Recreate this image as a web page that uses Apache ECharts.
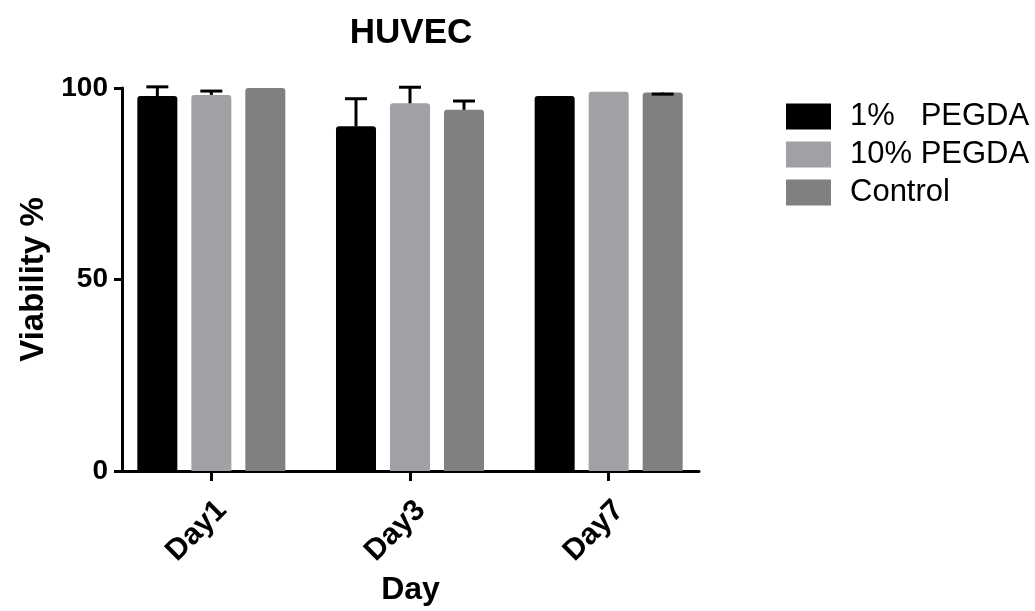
<!DOCTYPE html>
<html>
<head>
<meta charset="utf-8">
<style>
  html, body { margin: 0; padding: 0; background: #fff; }
  #chart { width: 1035px; height: 611px; }
</style>
<script src="https://cdn.jsdelivr.net/npm/echarts@6/dist/echarts.min.js"></script>
</head>
<body>
<div id="chart"></div>
<script>
// dados
const categories = ['Day1', 'Day3', 'Day7'];
const seriesNames = ['1%   PEGDA', '10% PEGDA', 'Control'];
const pegda1   = [97.9, 90.0, 97.9];
const pegda10  = [98.2, 96.0, 99.0];
const control  = [100, 94.3, 98.8];
// topo da barra de erro (null = sem barra)
const pegda1Hi  = [100.3, 97.2, null];
const pegda10Hi = [99.2, 100.2, null];
const controlHi = [null, 96.6, 98.4];
const yTicks = [0, 50, 100];

const colors = ['#000000', '#a1a1a5', '#808080'];
const FONT = '"Liberation Sans", Arial, sans-serif';

const chart = echarts.init(document.getElementById('chart'));

function errData(mean, hi) {
  return categories.map((c, i) => hi[i] == null ? null : [i, mean[i], hi[i]]).filter(d => d);
}

function errItem(offset) {
  return function (params, api) {
    const i = api.value(0);
    const lo = api.coord([i, api.value(1)]);
    const hi = api.coord([i, api.value(2)]);
    const x = lo[0] + offset;
    const st = { stroke: '#000', lineWidth: 3 };
    return {
      type: 'group',
      children: [
        { type: 'line', shape: { x1: x, y1: lo[1], x2: x, y2: hi[1] }, style: st },
        { type: 'line', shape: { x1: x - 11, y1: hi[1], x2: x + 11, y2: hi[1] }, style: st }
      ]
    };
  };
}

const means = [pegda1, pegda10, control];
const highs = [pegda1Hi, pegda10Hi, controlHi];
const offsets = [-54, 0, 54];

const barSeries = means.map((m, k) => ({
  name: seriesNames[k],
  type: 'bar',
  xAxisIndex: 0, yAxisIndex: 0,
  data: m,
  barWidth: 40,
  barGap: '35%',
  itemStyle: { color: colors[k], borderRadius: [3, 3, 0, 0] },
  z: 2
}));

const errSeries = means.map((m, k) => ({
  type: 'custom',
  xAxisIndex: 0, yAxisIndex: 0,
  renderItem: errItem(offsets[k]),
  data: errData(m, highs[k]),
  z: 5,
  silent: true
}));

chart.setOption({
  animation: false,
  backgroundColor: '#fff',
  title: {
    text: 'HUVEC',
    left: 406, top: 11,
    textAlign: 'center',
    textStyle: { fontFamily: FONT, fontWeight: 'bold', fontSize: 35, color: '#000' }
  },
  legend: {
    orient: 'vertical',
    left: 781, top: 96,
    data: seriesNames,
    icon: 'rect',
    itemWidth: 45, itemHeight: 26,
    itemGap: 7,
    textStyle: { fontFamily: FONT, fontSize: 31, lineHeight: 26, color: '#000', padding: [0, 0, 0, 14] }
  },
  grid: [
    { left: 112, right: 327, top: 88, bottom: 140 },
    { left: 122, right: 336, top: 88, bottom: 140 }
  ],
  xAxis: [
    {
      type: 'category', gridIndex: 0, data: categories,
      axisLine: { show: false },
      axisTick: { show: true, alignWithLabel: true, length: 10, lineStyle: { color: '#000', width: 3 } },
      axisLabel: {
        rotate: 45, margin: 24, verticalAlign: 'top',
        fontFamily: FONT, fontWeight: 'bold', fontSize: 30, color: '#000'
      }
    },
    {
      type: 'value', gridIndex: 1, min: 0, max: 1,
      axisLine: { show: true, lineStyle: { color: '#000', width: 3 } },
      axisTick: { show: false }, axisLabel: { show: false }, splitLine: { show: false },
      name: 'Day', nameLocation: 'middle', nameGap: 103,
      nameTextStyle: { fontFamily: FONT, fontWeight: 'bold', fontSize: 32, color: '#000' }
    }
  ],
  yAxis: [
    { type: 'value', gridIndex: 0, min: 0, max: 100, show: false },
    {
      type: 'value', gridIndex: 1, min: 0, max: 100, interval: 50,
      axisLine: { show: true, lineStyle: { color: '#000', width: 3 } },
      axisTick: { show: true, length: 8, lineStyle: { color: '#000', width: 3 } },
      axisLabel: {
        margin: 14, fontFamily: FONT, fontWeight: 'bold', fontSize: 28, color: '#000',
        formatter: v => yTicks.includes(v) ? String(v) : ''
      },
      splitLine: { show: false },
      name: 'Viability %', nameLocation: 'middle', nameGap: 68, nameRotate: 90,
      nameTextStyle: { fontFamily: FONT, fontWeight: 'bold', fontSize: 33, color: '#000' }
    }
  ],
  series: barSeries.concat(errSeries)
});
</script>
</body>
</html>
